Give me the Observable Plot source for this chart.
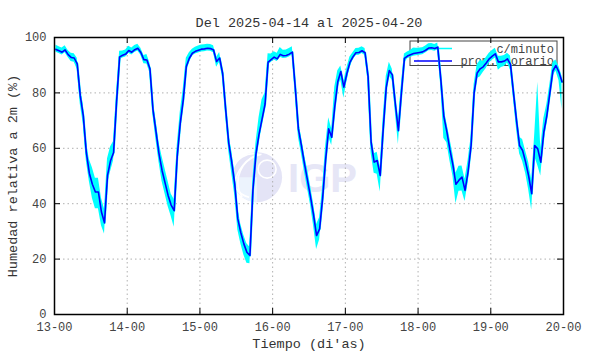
<!DOCTYPE html>
<html><head><meta charset="utf-8">
<script src="https://cdn.jsdelivr.net/npm/d3@7"></script>
<script src="https://cdn.jsdelivr.net/npm/@observablehq/plot@0.6"></script>
<style>
html,body{margin:0;padding:0;background:#fff;}
#chart svg{display:block;}
</style></head><body><div id="chart"></div>
<script>
const title = "Del 2025-04-14 al 2025-04-20";
const xLabel = "Tiempo (di'as)";
const yLabel = "Humedad relativa a 2m (%)";
const seriesNames = ["c/minuto", "prom. horario"];
const xTickHours = [0, 24, 48, 72, 96, 120, 144, 168];
const xTickLabels = ["13-00", "14-00", "15-00", "16-00", "17-00", "18-00", "19-00", "20-00"];
const yTicks = [0, 20, 40, 60, 80, 100];

// hourly average (prom. horario), one value per hour starting 13-00
const promHorario = [
  95.7,95.2,94.7,95.5,93.8,92.8,92.6,90.5,79,71.8,58.5,51,47,44.2,44.2,37,33.1,50.2,55.5,58.5,77,93,93.6,94,
  95.3,94.7,95.6,96.1,94.6,92,91.9,88.7,74,66,58,52,47.5,43,39.5,37.5,57,69,77.5,89.5,92.5,94.3,95,95.4,
  95.8,95.9,96.1,96,95.5,91.3,92.6,87,74,62,55,47,34.5,29.5,25.5,22.5,21.3,45,58,65,70.5,76,91.1,92,
  92.9,92.3,93.9,93.4,93.5,94,94.7,81.5,67,61,54.5,48.5,42.5,36,28.5,30.9,42,56,67,64,75,84,87.7,82.1,
  87,91,93,94.5,94.6,95.2,94.5,86,62.2,55,55.6,50.2,67,82,88.1,86.5,76,66.4,80,92.5,93.3,93.8,94.2,94.4,
  94.6,94.8,95.4,96.2,96.3,96,96.5,85,71.5,66,59.5,54,47,48.5,49.6,44.8,51.5,61,80,87.2,88.7,89.4,90.8,92.3,
  93.3,94.1,91.2,91.2,91.5,92.3,90.3,80,70,61,59.2,55,50,43.6,61,59.8,55,65.8,71.8,80,88,89.9,87.5,84
];
// per-minute readings (c/minuto): spread below / above the hourly value within each hour
const minutoBajo = [
  1,1,1,1,1,1.5,1.5,2,3,3,3,3,5,6,6,5,4,3,4,3,2,1,1,1,
  1,1,1,1,1,1.5,1.5,1.5,2,3,3,4,4,4,4,6,5,3,3,2,1.5,1,1,1,
  1,1,1,1,1,2,1.5,1.5,2,3,4,4,4,4,4,4,3,3,3,3,2,2,1,1,
  1,1,1,1,1,1,1,2,3,3,3,3,3,4,5,4,3,3,3,3,3,2,3,4,
  3,2,1,1,1,1,1,2,4,4,5,6,4,2,2,2,3,5,3,2,1,1,1,1,
  1,1,1,1,1,1,1,2,8,4,4,4,7,4,5,4,4,3,3,2,3,2,2,1.5,
  1.5,1.5,3,2,2,1.5,2,2,3,3,4,4,5,6,4,6,5,4,3,3,2,2,3,10
];
const minutoAlto = [
  1.5,1.5,1.5,1.5,1.5,1.5,1.5,2,3,4,4,5,6,5,5,5,5,6,5,4,3,2,1.5,1.5,
  1.5,1.5,1.5,1.5,1.5,1.5,2,2,3,4,4,5,5,5,4,4,4,4,4,3,2,1.5,1.5,1.5,
  1.5,1.5,1.5,1.5,1.5,1.5,2,1.5,3,3,4,4,4,3,3,3,3,4,4,6,7,4,3,2,
  2,2,2.5,2,2,2,2,2,3,3,3,4,4,4,4,4,4,5,4,3,7,4,2,2,
  2,2,1.5,1.5,1.5,1.5,1.5,2,3,3,3,3,4,4,3,2,2,3,3,1.5,1.5,1.5,2,1.5,
  1.5,1.5,1.5,1.5,1.5,1.5,1.5,2,3,3,4,4,4,5,4,4,4,3,3,3,3,2,2,2,
  2,2,2,2,2,2,3,3,3,3,4,4,5,5,4,24,5,5,4,3,3,2,2,2
];

const W = 590, H = 354, mL = 54, mR = 27, mT = 37, mB = 40;
const fw = W - mL - mR, fh = H - mT - mB;
const rows = promHorario.map((v, i) => ({t: i + 0.5, v, lo: v - minutoBajo[i], hi: v + minutoAlto[i]}));
const CYAN = "#00ffff", BLUE = "#0000ff";
const mono = "'Liberation Mono','DejaVu Sans Mono',monospace";

const plot = Plot.plot({
  width: W, height: H, marginLeft: mL, marginRight: mR, marginTop: mT, marginBottom: mB,
  style: {fontFamily: mono, fontSize: "12px", background: "#fff", color: "#444"},
  x: {domain: [0, 168]},
  y: {domain: [0, 100]},
  marks: [
    Plot.ruleX(xTickHours, {x: d => d, stroke: "#b0b0b0", strokeDasharray: "1.5,3"}),
    Plot.ruleY(yTicks, {y: d => d, stroke: "#b0b0b0", strokeDasharray: "1.5,3"}),
    Plot.areaY(rows, {x: "t", y1: "lo", y2: "hi", fill: CYAN}),
    Plot.line(rows, {x: "t", y: "v", stroke: CYAN, strokeWidth: 2.2}),
    Plot.line(rows, {x: "t", y: "v", stroke: BLUE, strokeWidth: 1.6}),
    Plot.ruleX(xTickHours, {x: d => d, stroke: "#000", insetTop: fh - 6}),
    Plot.ruleX(xTickHours, {x: d => d, stroke: "#000", insetBottom: fh - 6}),
    Plot.ruleY(yTicks, {y: d => d, stroke: "#000", insetRight: fw - 6}),
    Plot.ruleY(yTicks, {y: d => d, stroke: "#000", insetLeft: fw - 6}),
    Plot.frame({stroke: "#000", strokeWidth: 1.5}),
    Plot.axisX(xTickHours, {tickSize: 0, tickPadding: 8, label: null, fill: "#444",
      tickFormat: d => xTickLabels[xTickHours.indexOf(d)]}),
    Plot.axisY(yTicks, {tickSize: 0, tickPadding: 8, label: null, fill: "#444"}),
    Plot.text([title], {text: d => d, frameAnchor: "top", dy: -20, fontSize: 13.5, fill: "#333"}),
    Plot.text([xLabel], {text: d => d, frameAnchor: "bottom", dy: 33, fontSize: 13.5, fill: "#333"}),
    Plot.text([yLabel], {text: d => d, frameAnchor: "left", dx: -42, rotate: -90, textAnchor: "middle", fontSize: 13.5, fill: "#333"})
  ]
});
document.getElementById("chart").appendChild(plot);

const node = plot;
// watermark (below everything)
const firstMark = node.querySelector("g");
const wm = document.createElementNS("http://www.w3.org/2000/svg", "g");
node.insertBefore(wm, firstMark);
const w = d3.select(wm);
const cx = mL + fw * 0.399, cy = mT + fh * 0.506;
w.append("circle").attr("cx", cx).attr("cy", cy).attr("r", 25).attr("fill", "#e4e4f6");
w.append("path").attr("d", `M${cx-25},${cy} A25,25 0 0,0 ${cx},${cy+25} L${cx},${cy} Z`).attr("fill", "#ecf3fd");
[8, 15, 22].forEach(r => {
  w.append("path").attr("d", `M${cx+r*0.2},${cy-23} A${r+14},${r+14} 0 0,0 ${cx-r},${cy+20}`)
    .attr("fill", "none").attr("stroke", "#fff").attr("stroke-width", 1.6);
});
w.append("circle").attr("cx", cx + 10).attr("cy", cy - 8).attr("r", 9).attr("fill", "none").attr("stroke", "#fff").attr("stroke-width", 1.6);
w.append("text").attr("x", cx + 31).attr("y", cy + 15).attr("text-anchor", "start")
  .attr("font-family", "'Liberation Sans',Arial,sans-serif")
  .attr("font-weight", "bold").attr("font-size", 40).attr("fill", "#e6e6f6").text("IGP");

// legend (under the data lines)
const areaG = node.querySelector('[aria-label="area"]');
const lg = document.createElementNS("http://www.w3.org/2000/svg", "g");
node.insertBefore(lg, areaG);
const L = d3.select(lg);
const bx2 = mL + fw - 6, bx1 = bx2 - 147, by1 = mT + 4, by2 = by1 + 24.5;
L.append("rect").attr("x", bx1).attr("y", by1).attr("width", bx2 - bx1).attr("height", by2 - by1)
  .attr("fill", "none").attr("stroke", "#444").attr("stroke-width", 1);
const rowsY = [by1 + 7.5, by1 + 20];
const cols = [CYAN, BLUE];
seriesNames.forEach((name, i) => {
  L.append("line").attr("x1", bx1 + 4).attr("x2", bx1 + 42).attr("y1", rowsY[i]).attr("y2", rowsY[i])
    .attr("stroke", cols[i]).attr("stroke-width", 1.5);
  L.append("text").attr("x", bx2 - 3).attr("y", rowsY[i]).attr("dy", "0.35em").attr("text-anchor", "end")
    .attr("font-family", mono).attr("font-size", 12).attr("fill", "#444").text(name);
});
</script></body></html>
